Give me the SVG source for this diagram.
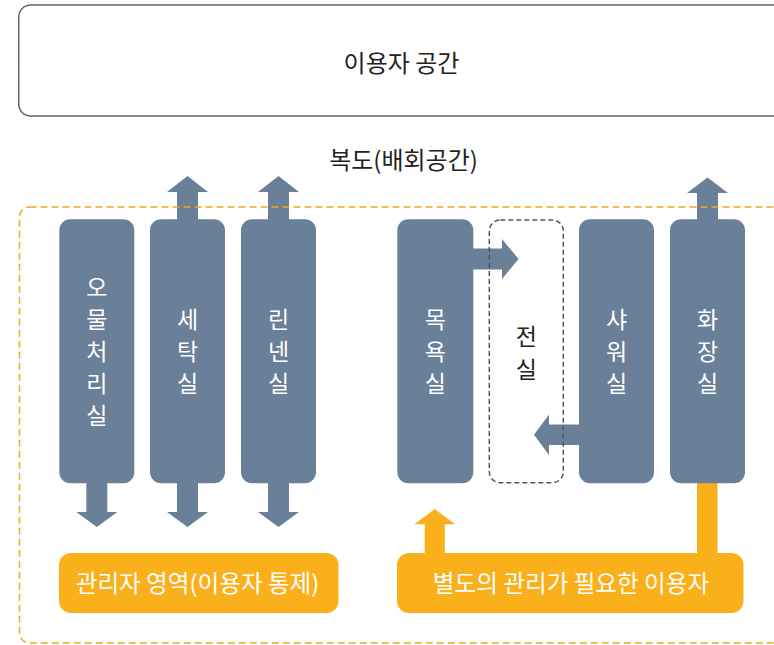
<svg xmlns="http://www.w3.org/2000/svg" width="774" height="645" viewBox="0 0 774 645">
<style>
.t{font-family:"Noto Sans CJK KR","Noto Sans",sans-serif;font-size:23px;text-anchor:middle}
.big{font-size:24px}
.lab{font-size:23.6px}
.dark{fill:#222}
.w{fill:#fff}
.room{fill:#6A8099}
.arr{fill:#6A8099}
.oarr{fill:#F9B01B}
.obox{fill:#F9B01B}
</style>
<rect width="774" height="645" fill="#fff"/>
<g id="user-space">
<rect x="18.75" y="5" width="780" height="111" rx="12" fill="#fff" stroke="#666" stroke-width="1.5"/>
<text class="t big dark" x="401.5" y="71.5">이용자 공간</text>
</g>
<g id="corridor-label">
<text class="t big dark" x="403.5" y="168.5">복도(배회공간)</text>
</g>
<g id="connectors">
<polygon class="arr" points="177,225 177,192 167,192 187.5,176 208,192 198,192 198,225"/>
<polygon class="arr" points="268,225 268,192 258,192 278.5,176 299,192 289,192 289,225"/>
<polygon class="arr" points="697,225 697,193 687,193 707.5,177.5 728,193 718,193 718,225"/>
<polygon class="arr" points="86.3,478 107.3,478 107.3,512 117.3,512 96.8,527 76.3,512 86.3,512"/>
<polygon class="arr" points="177,478 198,478 198,512 208,512 187.5,527 167,512 177,512"/>
<polygon class="arr" points="268,478 289,478 289,512 299,512 278.5,527 258,512 268,512"/>
<polygon class="arr" points="468,248.5 502,248.5 502,239 518.5,259 502,279 502,269.5 468,269.5"/>
<polygon class="arr" points="584,424.5 549,424.5 549,414.5 534,434.7 549,455 549,445 584,445"/>
<rect class="oarr" x="697" y="480" width="20.5" height="76"/>
<polygon class="oarr" points="424.7,556 424.7,524.3 414.3,524.3 434.7,509 455.2,524.3 444.8,524.3 444.8,556"/>
</g>
<g id="managed-area">
<rect x="19.5" y="207" width="790" height="436" rx="10" fill="none" stroke="#F5A81C" stroke-width="1.5" stroke-dasharray="7,4"/>
</g>
<g id="room-waste">
<rect class="room" x="59.3" y="219.3" width="75" height="264" rx="11"/>
<text class="t w" x="96.8" y="295.5">오</text>
<text class="t w" x="96.8" y="327.5">물</text>
<text class="t w" x="96.8" y="359.5">처</text>
<text class="t w" x="96.8" y="391.5">리</text>
<text class="t w" x="96.8" y="423.5">실</text>
</g>
<g id="room-laundry">
<rect class="room" x="150" y="219.3" width="75" height="264" rx="11"/>
<text class="t w" x="187.5" y="327.5">세</text>
<text class="t w" x="187.5" y="359.5">탁</text>
<text class="t w" x="187.5" y="391.5">실</text>
</g>
<g id="room-linen">
<rect class="room" x="241" y="219.3" width="75" height="264" rx="11"/>
<text class="t w" x="278.5" y="327.5">린</text>
<text class="t w" x="278.5" y="359.5">넨</text>
<text class="t w" x="278.5" y="391.5">실</text>
</g>
<g id="room-bath">
<rect class="room" x="397.3" y="219.3" width="76" height="264" rx="11"/>
<text class="t w" x="435.3" y="327.5">목</text>
<text class="t w" x="435.3" y="359.5">욕</text>
<text class="t w" x="435.3" y="391.5">실</text>
</g>
<g id="room-anteroom">
<rect x="489.3" y="220" width="74" height="262.7" rx="11" fill="none" stroke="#555" stroke-width="1.5" stroke-dasharray="5,3"/>
<text class="t dark" x="526.3" y="345">전</text>
<text class="t dark" x="526.3" y="378">실</text>
</g>
<g id="room-shower">
<rect class="room" x="579" y="219.3" width="75" height="264" rx="11"/>
<text class="t w" x="616.5" y="327.5">샤</text>
<text class="t w" x="616.5" y="359.5">워</text>
<text class="t w" x="616.5" y="391.5">실</text>
</g>
<g id="room-toilet">
<rect class="room" x="670" y="219.3" width="75" height="264" rx="11"/>
<text class="t w" x="707.5" y="327.5">화</text>
<text class="t w" x="707.5" y="359.5">장</text>
<text class="t w" x="707.5" y="391.5">실</text>
</g>
<g id="admin-area">
<rect class="obox" x="59" y="553" width="279.5" height="60" rx="12"/>
<text class="t lab w" x="197.5" y="591.5">관리자 영역(이용자 통제)</text>
</g>
<g id="special-users">
<rect class="obox" x="397" y="553" width="346.5" height="60" rx="12"/>
<text class="t lab w" x="571" y="591.5">별도의 관리가 필요한 이용자</text>
</g>
</svg>
